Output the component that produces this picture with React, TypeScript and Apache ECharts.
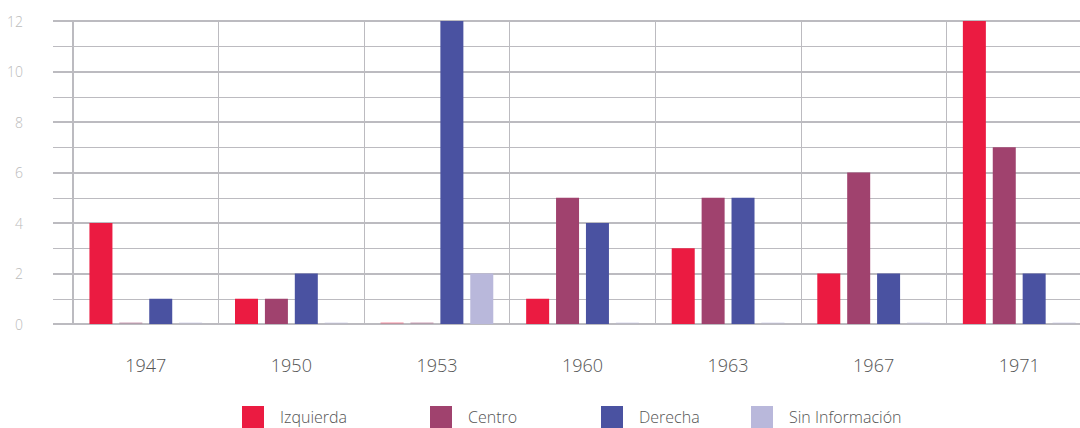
import React, { useEffect, useRef } from "react";
import * as echarts from "echarts";

const categories = ["1947", "1950", "1953", "1960", "1963", "1967", "1971"];
const seriesNames = ["Izquierda", "Centro", "Derecha", "Sin Información"];
const izquierda = [4, 1, 0, 1, 3, 2, 12];
const centro = [0, 1, 0, 5, 5, 6, 7];
const derecha = [1, 2, 12, 4, 5, 2, 2];
const sinInfo = [0, 0, 2, 0, 0, 0, 0];
const colors = ["#EB1B41", "#A0426E", "#4A52A1", "#B9B8DB"];
const legendLefts = [242, 430, 601, 751];

const FONT = "'Open Sans', 'Noto Sans', sans-serif";
const GRID = "#BCBBC0";

export default function App() {
  const ref = useRef<HTMLDivElement>(null);
  useEffect(() => {
    document.body.style.margin = "0";
    const chart = echarts.init(ref.current!, null, { renderer: "svg" });
    const all = [izquierda, centro, derecha, sinInfo];
    chart.setOption({
      animation: false,
      grid: [
        { left: 73, right: 0, top: 21, bottom: 104, containLabel: false },
        { left: 53, right: 0, top: 21, bottom: 104, containLabel: false },
      ],
      legend: seriesNames.map((n, i) => ({
        data: [n],
        left: legendLefts[i],
        top: 406,
        padding: 0,
        itemWidth: 22,
        itemHeight: 22,
        itemGap: 0,
        icon: "rect",
        textStyle: { color: "#555", fontSize: 16, fontFamily: FONT, fontWeight: 300, padding: [0, 0, 0, 11] },
      })),
      xAxis: [
        {
          type: "category",
          gridIndex: 0,
          data: categories,
          axisLine: { show: false },
          axisTick: { show: false },
          axisLabel: { color: "#555", fontSize: 18, fontFamily: FONT, fontWeight: 300, margin: 32 },
          splitLine: { show: true, interval: 0, lineStyle: { color: GRID, width: 1 } },
        },
        { type: "value", gridIndex: 1, show: false, min: 0, max: 1 },
      ],
      yAxis: [
        {
          type: "value",
          gridIndex: 0,
          min: 0,
          max: 12,
          interval: 2,
          axisLine: { show: true, lineStyle: { color: GRID, width: 2 } },
          axisTick: { show: false },
          axisLabel: { show: false },
          splitLine: { show: false },
        },
        {
          type: "value",
          gridIndex: 1,
          min: 0,
          max: 12,
          interval: 2,
          axisLine: { show: false },
          axisTick: { show: false },
          axisLabel: { color: "#BBB", fontSize: 14, fontFamily: FONT, fontWeight: 300, margin: 30 },
          splitLine: { show: true, lineStyle: { color: GRID, width: 2 } },
          minorTick: { show: false, splitNumber: 2 },
          minorSplitLine: { show: true, lineStyle: { color: GRID, width: 1 } },
        },
      ],
      series: seriesNames.map((n, i) => ({
        name: n,
        type: "bar",
        xAxisIndex: 0,
        yAxisIndex: 0,
        barWidth: 23,
        barGap: "30%",
        barMinHeight: 2,
        z: 3,
        itemStyle: { color: colors[i] },
        data: all[i].map((v) => (v === 0 ? { value: v, itemStyle: { opacity: 0.25 } } : v)),
      })),
    });
    return () => chart.dispose();
  }, []);
  return (
    <div style={{ width: 1080, height: 428, overflow: "hidden" }}>
      <div ref={ref} style={{ width: 1092, height: 428 }} />
    </div>
  );
}
